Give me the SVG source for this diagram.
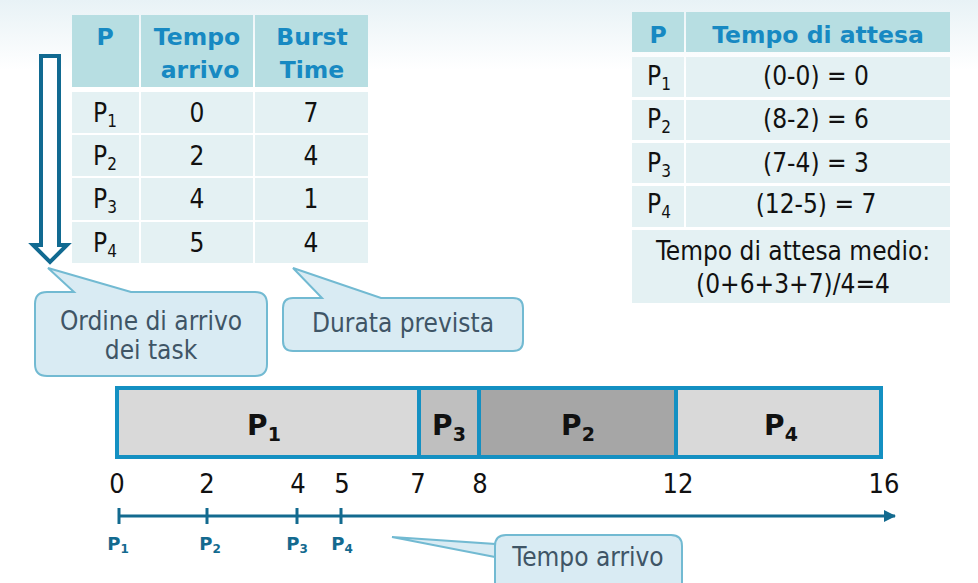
<svg xmlns="http://www.w3.org/2000/svg" width="978" height="583" viewBox="0 0 978 583">
<defs>
<linearGradient id="bg" x1="0" y1="0" x2="0" y2="1">
<stop offset="0" stop-color="#e8f2f6"/>
<stop offset="1" stop-color="#ffffff"/>
</linearGradient>
<marker id="ah" viewBox="0 0 12 12" refX="11" refY="6" markerWidth="12" markerHeight="12" markerUnits="userSpaceOnUse" orient="auto">
<path d="M0,0 L12,6 L0,12 Z" fill="#136a8f"/>
</marker>
</defs>
<style>
text{font-family:"DejaVu Sans Condensed","Liberation Sans",sans-serif;}
.hd{fill:#b7dee2;}
.cell{fill:#e4f1f3;}
.ht{fill:#1789c2;font-family:"DejaVu Sans",sans-serif;font-weight:bold;font-size:23.5px;text-anchor:middle;}
.dt{fill:#111;font-size:26px;text-anchor:middle;}
.sub{font-size:17px;}
.call{fill:#d9ebf3;stroke:#72bad2;stroke-width:2;}
.ct{fill:#3f5566;font-size:26px;text-anchor:middle;}
.bar{stroke:#1490c2;stroke-width:4;}
.bt{fill:#111;font-family:"DejaVu Sans",sans-serif;font-weight:bold;font-size:28px;text-anchor:middle;}
.bsub{font-size:19px;}
.ax{fill:#111;font-size:27px;text-anchor:middle;}
.al{fill:#136a8f;font-family:"DejaVu Sans",sans-serif;font-weight:bold;font-size:18px;text-anchor:middle;}
.asub{font-size:12px;}
</style>
<rect x="0" y="0" width="978" height="70" fill="url(#bg)"/>

<g id="table-arrivals">
<rect class="hd" x="72" y="15" width="67" height="72"/>
<rect class="hd" x="141" y="15" width="112" height="72"/>
<rect class="hd" x="255" y="15" width="113" height="72"/>
<text class="ht" x="105" y="45">P</text>
<text class="ht" x="197" y="45">Tempo</text>
<text class="ht" x="200" y="78">arrivo</text>
<text class="ht" x="312" y="45">Burst</text>
<text class="ht" x="312" y="78">Time</text>
<rect class="cell" x="72" y="92" width="67" height="41"/>
<rect class="cell" x="141" y="92" width="112" height="41"/>
<rect class="cell" x="255" y="92" width="113" height="41"/>
<rect class="cell" x="72" y="135" width="67" height="41"/>
<rect class="cell" x="141" y="135" width="112" height="41"/>
<rect class="cell" x="255" y="135" width="113" height="41"/>
<rect class="cell" x="72" y="178" width="67" height="42"/>
<rect class="cell" x="141" y="178" width="112" height="42"/>
<rect class="cell" x="255" y="178" width="113" height="42"/>
<rect class="cell" x="72" y="222" width="67" height="41"/>
<rect class="cell" x="141" y="222" width="112" height="41"/>
<rect class="cell" x="255" y="222" width="113" height="41"/>
<text class="dt" x="105" y="122">P<tspan class="sub" dy="5">1</tspan></text>
<text class="dt" x="197" y="122">0</text>
<text class="dt" x="311" y="122">7</text>
<text class="dt" x="105" y="165">P<tspan class="sub" dy="5">2</tspan></text>
<text class="dt" x="197" y="165">2</text>
<text class="dt" x="311" y="165">4</text>
<text class="dt" x="105" y="208">P<tspan class="sub" dy="5">3</tspan></text>
<text class="dt" x="197" y="208">4</text>
<text class="dt" x="311" y="208">1</text>
<text class="dt" x="105" y="252">P<tspan class="sub" dy="5">4</tspan></text>
<text class="dt" x="197" y="252">5</text>
<text class="dt" x="311" y="252">4</text>
</g>

<g id="table-wait">
<rect class="hd" x="632" y="12" width="52" height="40"/>
<rect class="hd" x="686" y="12" width="264" height="40"/>
<text class="ht" x="658" y="43">P</text>
<text class="ht" x="818" y="43">Tempo di attesa</text>
<rect class="cell" x="632" y="57" width="52" height="40"/>
<rect class="cell" x="686" y="57" width="264" height="40"/>
<rect class="cell" x="632" y="100" width="52" height="40"/>
<rect class="cell" x="686" y="100" width="264" height="40"/>
<rect class="cell" x="632" y="143" width="52" height="40"/>
<rect class="cell" x="686" y="143" width="264" height="40"/>
<rect class="cell" x="632" y="186" width="52" height="41"/>
<rect class="cell" x="686" y="186" width="264" height="41"/>
<rect class="cell" x="632" y="230" width="318" height="73"/>
<text class="dt" x="659" y="85">P<tspan class="sub" dy="5">1</tspan></text>
<text class="dt" x="816" y="85">(0-0) = 0</text>
<text class="dt" x="659" y="128">P<tspan class="sub" dy="5">2</tspan></text>
<text class="dt" x="816" y="128">(8-2) = 6</text>
<text class="dt" x="659" y="172">P<tspan class="sub" dy="5">3</tspan></text>
<text class="dt" x="816" y="172">(7-4) = 3</text>
<text class="dt" x="659" y="213">P<tspan class="sub" dy="5">4</tspan></text>
<text class="dt" x="816" y="213">(12-5) = 7</text>
<text class="dt" x="793" y="260">Tempo di attesa medio:</text>
<text class="dt" x="793" y="293">(0+6+3+7)/4=4</text>
</g>

<g id="arrow-order">
<path d="M41,56 L59,56 L59,245 L67,245 L50,262 L33,245 L41,245 Z" fill="#ffffff" stroke="#116a91" stroke-width="4" stroke-linejoin="miter"/>
</g>

<g id="callout-order">
<path class="call" d="M47,292 Q35,292 35,304 L35,364 Q35,376 47,376 L255,376 Q267,376 267,364 L267,304 Q267,292 255,292 L131,292 L48,268 L74,292 Z"/>
<text class="ct" x="151" y="330">Ordine di arrivo</text>
<text class="ct" x="151" y="359">dei task</text>
</g>

<g id="callout-burst">
<path class="call" d="M293,298 Q283,298 283,308 L283,341 Q283,351 293,351 L513,351 Q523,351 523,341 L523,308 Q523,298 513,298 L381,298 L293,268 L322,298 Z"/>
<text class="ct" x="403" y="332">Durata prevista</text>
</g>

<g id="gantt">
<rect class="bar" x="117" y="388" width="302" height="69" fill="#d9d9d9"/>
<rect class="bar" x="419" y="388" width="60" height="69" fill="#bfbfbf"/>
<rect class="bar" x="479" y="388" width="197" height="69" fill="#a6a6a6"/>
<rect class="bar" x="676" y="388" width="205" height="69" fill="#d9d9d9"/>
<text class="bt" x="264" y="435">P<tspan class="bsub" dy="6">1</tspan></text>
<text class="bt" x="449" y="435">P<tspan class="bsub" dy="6">3</tspan></text>
<text class="bt" x="578" y="435">P<tspan class="bsub" dy="6">2</tspan></text>
<text class="bt" x="781" y="435">P<tspan class="bsub" dy="6">4</tspan></text>
</g>

<g id="axis-labels">
<text class="ax" x="117" y="493">0</text>
<text class="ax" x="207" y="493">2</text>
<text class="ax" x="298" y="493">4</text>
<text class="ax" x="342" y="493">5</text>
<text class="ax" x="418" y="493">7</text>
<text class="ax" x="480" y="493">8</text>
<text class="ax" x="678" y="493">12</text>
<text class="ax" x="884" y="493">16</text>
</g>

<g id="connectors">
<line x1="119" y1="516" x2="895" y2="516" stroke="#136a8f" stroke-width="3" marker-end="url(#ah)"/>
<line x1="119" y1="508" x2="119" y2="524" stroke="#136a8f" stroke-width="3"/>
<line x1="207" y1="508" x2="207" y2="524" stroke="#136a8f" stroke-width="3"/>
<line x1="297" y1="508" x2="297" y2="524" stroke="#136a8f" stroke-width="3"/>
<line x1="341" y1="508" x2="341" y2="524" stroke="#136a8f" stroke-width="3"/>
</g>

<g id="arrival-labels">
<text class="al" x="118" y="550">P<tspan class="asub" dy="3">1</tspan></text>
<text class="al" x="210" y="550">P<tspan class="asub" dy="3">2</tspan></text>
<text class="al" x="297" y="550">P<tspan class="asub" dy="3">3</tspan></text>
<text class="al" x="342" y="550">P<tspan class="asub" dy="3">4</tspan></text>
</g>

<g id="callout-arrival">
<path class="call" d="M495,544 L495,600 L682,600 L682,546 Q682,535 671,535 L506,535 Q495,535 495,546 L495,557 L392,537 L495,544 Z"/>
<text class="ct" x="588" y="566">Tempo arrivo</text>
</g>
</svg>
